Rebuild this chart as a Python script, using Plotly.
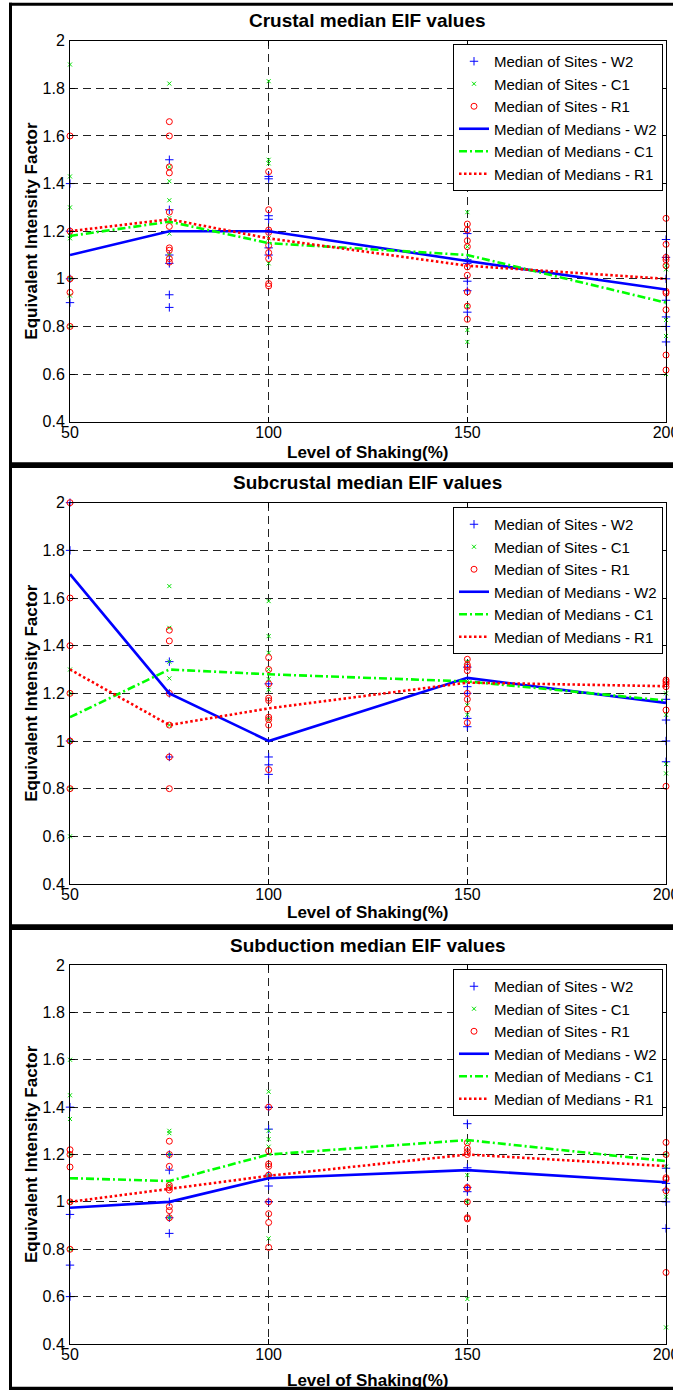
import plotly.graph_objects as go

# ---------------- data ----------------
levels = [50, 75, 100, 150, 200]
series_names = ["W2", "C1", "R1"]

# Crustal
crustal_sites_w2 = [[1.4, 1.2, 1.0, 0.9], [1.5, 1.29, 1.10, 1.065, 0.933, 0.88],
                    [1.43, 1.42, 1.265, 1.25, 1.2, 1.13, 1.10], [1.19, 1.08, 1.065, 0.99, 0.95, 0.86],
                    [1.165, 1.09, 1.0, 0.91, 0.84, 0.80, 0.735]]
crustal_sites_c1 = [[1.9, 1.43, 1.30, 1.18, 1.17, 1.0, 0.93, 0.8], [1.82, 1.47, 1.41, 1.33, 1.255, 1.19, 1.1],
                    [1.83, 1.50, 1.485, 1.17, 1.065], [1.28, 1.135, 1.08, 0.885, 0.785, 0.735],
                    [1.055, 1.04, 0.827, 0.76, 0.60]]
crustal_sites_r1 = [[1.6, 1.2, 1.0, 0.943, 0.8], [1.66, 1.6, 1.47, 1.445, 1.28, 1.22, 1.13, 1.12, 1.085, 1.07],
                    [1.45, 1.29, 1.205, 1.195, 1.14, 1.11, 1.085, 0.98, 0.97],
                    [1.23, 1.205, 1.16, 1.135, 1.05, 1.015, 0.945, 0.885, 0.83],
                    [1.254, 1.145, 1.09, 1.08, 1.055, 0.947, 0.94, 0.87, 0.68, 0.617]]
crustal_medians_w2 = [1.10, 1.20, 1.20, 1.075, 0.955]
crustal_medians_c1 = [1.18, 1.24, 1.15, 1.10, 0.90]
crustal_medians_r1 = [1.20, 1.25, 1.17, 1.055, 1.00]

# Subcrustal
subcrustal_sites_w2 = [[2.0, 1.8, 1.0], [1.333, 1.2, 0.933], [1.24, 0.933, 0.90, 0.86],
                       [1.31, 1.228, 1.2, 1.095, 1.06], [1.175, 1.088, 1.0, 0.913]]
subcrustal_sites_c1 = [[1.3, 1.2, 1.0, 0.8, 0.6], [1.65, 1.475, 1.333, 1.263, 1.067],
                       [1.587, 1.44, 1.37, 1.30, 1.26, 1.215, 1.09], [1.333, 1.25, 1.15, 1.11],
                       [1.2, 1.11, 0.903, 0.864]]
subcrustal_sites_r1 = [[2.0, 1.6, 1.4, 1.2, 1.0, 0.8], [1.465, 1.42, 1.2, 1.067, 0.933, 0.8],
                       [1.35, 1.30, 1.24, 1.18, 1.17, 1.10, 1.09, 1.067, 0.88],
                       [1.40, 1.343, 1.32, 1.31, 1.295, 1.2, 1.175, 1.134, 1.077],
                       [1.256, 1.249, 1.24, 1.228, 1.13, 0.81]]
subcrustal_medians_w2 = [1.70, 1.20, 1.00, 1.265, 1.16]
subcrustal_medians_c1 = [1.10, 1.30, 1.28, 1.25, 1.17]
subcrustal_medians_r1 = [1.30, 1.067, 1.137, 1.245, 1.23]

# Subduction
subduction_sites_w2 = [[1.4, 0.947, 0.733, 0.6], [1.2, 1.134, 1.0, 0.933, 0.867],
                       [1.40, 1.307, 1.113, 1.067, 1.0], [1.33, 1.144, 1.061, 1.043],
                       [1.142, 1.078, 1.05, 1.0, 0.888]]
subduction_sites_c1 = [[1.6, 1.45, 1.35, 1.2, 1.0, 0.8], [1.30, 1.29, 1.2, 1.07, 0.933],
                       [1.465, 1.30, 1.265, 1.233, 1.113, 0.846], [1.397, 1.25, 1.113, 1.0, 0.59],
                       [1.2, 1.149, 1.022, 0.47]]
subduction_sites_r1 = [[1.22, 1.2, 1.147, 1.0, 0.8], [1.256, 1.2, 1.15, 1.07, 1.06, 1.05, 0.98, 0.963, 0.933],
                       [1.40, 1.215, 1.16, 1.15, 1.113, 1.0, 0.95, 0.913, 0.808],
                       [1.434, 1.25, 1.226, 1.212, 1.2, 1.061, 1.057, 1.0, 0.933, 0.928],
                       [1.251, 1.2, 1.102, 1.095, 1.047, 0.702]]
subduction_medians_w2 = [0.975, 1.0, 1.1, 1.134, 1.083]
subduction_medians_c1 = [1.10, 1.088, 1.20, 1.261, 1.172]
subduction_medians_r1 = [1.0, 1.055, 1.11, 1.20, 1.151]

panel_titles = ["Crustal median EIF values", "Subcrustal median EIF values", "Subduction median EIF values"]
x_title = "Level of Shaking(%)"
y_title = "Equivalent Intensity Factor"

# ---------------- layout geometry (pixels) ----------------
W, H = 673, 1391
def fx(p):
    return p / W
def fy(p):
    return 1 - p / H

panels = [
    dict(title=panel_titles[0], sites=[crustal_sites_w2, crustal_sites_c1, crustal_sites_r1],
         meds=[crustal_medians_w2, crustal_medians_c1, crustal_medians_r1],
         top=40.7, bot=421.7, ty=20, xty=452, leg=44),
    dict(title=panel_titles[1], sites=[subcrustal_sites_w2, subcrustal_sites_c1, subcrustal_sites_r1],
         meds=[subcrustal_medians_w2, subcrustal_medians_c1, subcrustal_medians_r1],
         top=502.7, bot=884, ty=483, xty=912, leg=507),
    dict(title=panel_titles[2], sites=[subduction_sites_w2, subduction_sites_c1, subduction_sites_r1],
         meds=[subduction_medians_w2, subduction_medians_c1, subduction_medians_r1],
         top=965, bot=1344, ty=945, xty=1380, leg=969),
]

colors = ["#0000FF", "#00E000", "#FF0000"]
line_colors = ["#0000FF", "#00FF00", "#FF0000"]
symbols = ["cross-thin-open", "x-thin-open", "circle-open"]
msizes = [6, 4, 6]
dashes = ["solid", "8px,3px,2px,3px", "2.5px,2.5px"]

FONT = "Liberation Sans, Arial, Helvetica, sans-serif"
L, R = 70, 666

fig = go.Figure()
layout = dict(width=W, height=H, margin=dict(l=0, r=0, t=0, b=0, autoexpand=False),
              paper_bgcolor="white", plot_bgcolor="white",
              font=dict(family=FONT, color="black"), annotations=[], shapes=[])

for i, p in enumerate(panels):
    k = "" if i == 0 else str(i + 1)
    xa, ya = "x" + k, "y" + k
    lg = "legend" + k
    for j, nm in enumerate(series_names):
        xs, ys = [], []
        for lev, vals in zip(levels, p["sites"][j]):
            for v in vals:
                xs.append(lev)
                ys.append(v)
        fig.add_trace(go.Scatter(x=xs, y=ys, mode="markers", name="Median of Sites - " + nm,
                                 marker=dict(symbol=symbols[j], size=msizes[j],
                                             line=dict(color=colors[j], width=1), color=colors[j]),
                                 xaxis=xa, yaxis=ya, legend=lg, cliponaxis=False))
    for j, nm in enumerate(series_names):
        fig.add_trace(go.Scatter(x=levels, y=p["meds"][j], mode="lines", name="Median of Medians - " + nm,
                                 line=dict(color=line_colors[j], width=2.6, dash=dashes[j]),
                                 xaxis=xa, yaxis=ya, legend=lg, cliponaxis=False))
    common = dict(showline=True, linecolor="black", linewidth=1, mirror="ticks",
                  ticks="inside", ticklen=5, tickcolor="black", tickwidth=1,
                  showgrid=True, gridcolor="#222222", gridwidth=1, griddash="8px,5px",
                  zeroline=False, ticklabeloverflow="allow", automargin=False,
                  tickfont=dict(size=16, color="black", family=FONT))
    layout["xaxis" + k] = dict(domain=[fx(L), fx(R)], range=[50, 200], tick0=50, dtick=50,
                               anchor=ya, ticklabelstandoff=-4, **common)
    layout["yaxis" + k] = dict(domain=[fy(p["bot"]), fy(p["top"])], range=[0.4, 2], tick0=0.4, dtick=0.2,
                               anchor=xa, ticklabelstandoff=1, **common)
    layout[lg] = dict(x=fx(663), xanchor="right", y=fy(p["leg"]), yanchor="top",
                      bgcolor="white", bordercolor="black", borderwidth=1,
                      font=dict(size=15, family=FONT, color="black"),
                      tracegroupgap=0, itemwidth=30)
    cx = fx((L + R) / 2)
    layout["annotations"].append(dict(text="<b>" + p["title"] + "</b>", x=cx, y=fy(p["ty"]),
                                      xref="paper", yref="paper", showarrow=False,
                                      xanchor="center", yanchor="middle", font=dict(size=19, family=FONT)))
    layout["annotations"].append(dict(text="<b>" + x_title + "</b>", x=cx, y=fy(p["xty"]),
                                      xref="paper", yref="paper", showarrow=False,
                                      xanchor="center", yanchor="middle", font=dict(size=17, family=FONT)))
    layout["annotations"].append(dict(text="<b>" + y_title + "</b>", x=fx(31.5),
                                      y=fy((p["top"] + p["bot"]) / 2),
                                      xref="paper", yref="paper", showarrow=False, textangle=-90,
                                      xanchor="center", yanchor="middle", font=dict(size=17, family=FONT)))

# outer frame lines
frame = [
    (fx(10.5), fy(2.7), fx(10.5), fy(1390), 3),
    (fx(9), fy(4.2), fx(700), fy(4.2), 3),
    (fx(9), fy(465.2), fx(700), fy(465.2), 5.7),
    (fx(9), fy(927.2), fx(700), fy(927.2), 5.7),
    (fx(9), fy(1388.4), fx(700), fy(1388.4), 3.3),
]
for x0, y0, x1, y1, w in frame:
    layout["shapes"].append(dict(type="line", xref="paper", yref="paper", x0=x0, y0=y0, x1=x1, y1=y1,
                                 line=dict(color="black", width=w)))

fig.update_layout(**layout)
fig.write_html("out.html")
